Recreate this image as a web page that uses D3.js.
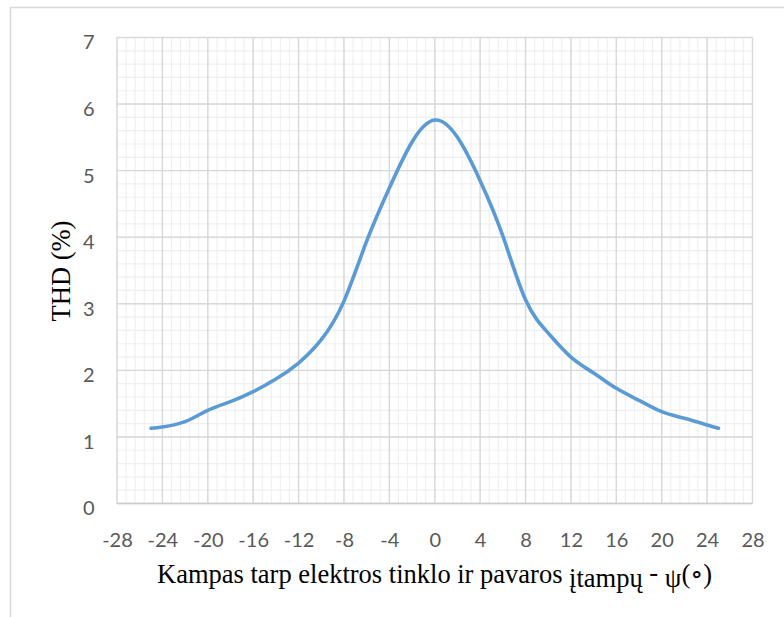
<!DOCTYPE html>
<html>
<head>
<meta charset="utf-8">
<script src="https://cdn.jsdelivr.net/npm/d3@7"></script>
<style>
  html, body { margin: 0; padding: 0; background: #fff; }
  svg { display: block; }
  .serif { font-family: "Liberation Serif", "Times New Roman", "DejaVu Serif", serif; }
  .tick-label { font-family: Lato, "Open Sans", sans-serif; }
</style>
</head>
<body>
<svg id="chart" width="784" height="617"></svg>
<script>
// THD versus phase angle between grid and drive voltage
const angles = [-25, -24, -22, -20, -18, -16, -14, -12, -10, -8, -6, -4, -2, 0,
                2, 4, 6, 8, 10, 12, 14, 16, 18, 20, 22, 24, 25];
const thdValues = [1.13, 1.15, 1.23, 1.40, 1.53, 1.68, 1.87, 2.11, 2.46, 3.04, 3.94, 4.74, 5.43, 5.76,
                   5.50, 4.85, 4.02, 3.06, 2.56, 2.20, 1.96, 1.73, 1.55, 1.38, 1.28, 1.18, 1.13];
const xTickValues = [-28, -24, -20, -16, -12, -8, -4, 0, 4, 8, 12, 16, 20, 24, 28];
const yTickValues = [0, 1, 2, 3, 4, 5, 6, 7];

const svg = d3.select("#chart");
const W = 784, H = 617;
const plot = { left: 117, right: 752.5, top: 37.5, bottom: 503.5 };

const x = d3.scaleLinear().domain([-28, 28]).range([plot.left, plot.right]);
const y = d3.scaleLinear().domain([0, 7]).range([plot.bottom, plot.top]);

// chart area frame (left and top edges)
svg.append("path")
  .attr("d", `M10.5,${H} L10.5,7.5 L${W},7.5`)
  .attr("fill", "none")
  .attr("stroke", "#d9d9d9")
  .attr("stroke-width", 1.5);

const grid = svg.append("g");

// minor gridlines
const xMinor = d3.range(-28, 28.001, 0.8);
const yMinor = d3.range(0, 7.001, 0.2);
grid.selectAll("line.xminor").data(xMinor).join("line")
  .attr("class", "xminor")
  .attr("x1", d => x(d)).attr("x2", d => x(d))
  .attr("y1", plot.top).attr("y2", plot.bottom)
  .attr("stroke", "#f0f0f0").attr("stroke-width", 1.2);
grid.selectAll("line.yminor").data(yMinor).join("line")
  .attr("class", "yminor")
  .attr("x1", plot.left).attr("x2", plot.right)
  .attr("y1", d => y(d)).attr("y2", d => y(d))
  .attr("stroke", "#f0f0f0").attr("stroke-width", 1.2);

// major gridlines
grid.selectAll("line.xmajor").data(xTickValues).join("line")
  .attr("class", "xmajor")
  .attr("x1", d => x(d)).attr("x2", d => x(d))
  .attr("y1", plot.top).attr("y2", plot.bottom)
  .attr("stroke", "#d9d9d9").attr("stroke-width", 1.4);
grid.selectAll("line.ymajor").data(yTickValues).join("line")
  .attr("class", "ymajor")
  .attr("x1", plot.left).attr("x2", plot.right)
  .attr("y1", d => y(d)).attr("y2", d => y(d))
  .attr("stroke", "#d9d9d9").attr("stroke-width", 1.4);

// baseline of the value axis
grid.append("line")
  .attr("x1", plot.left).attr("x2", plot.right)
  .attr("y1", y(0)).attr("y2", y(0))
  .attr("stroke", "#cccccc").attr("stroke-width", 1.6);

// axes (labels only), plain hyphen for negatives
const fmt = d => String(d).replace("\u2212", "-");
const xAxis = d3.axisBottom(x).tickValues(xTickValues).tickFormat(fmt).tickSize(0).tickPadding(0);
const yAxis = d3.axisLeft(y).tickValues(yTickValues).tickFormat(fmt).tickSize(0).tickPadding(0);

const gx = svg.append("g").attr("transform", `translate(0, ${plot.bottom})`).call(xAxis);
gx.select(".domain").remove();
gx.attr("font-family", null).attr("font-size", null);
gx.selectAll("text")
  .attr("class", "tick-label")
  .attr("y", 43).attr("dy", null)
  .attr("font-size", 20)
  .attr("fill", "#595959");

const gy = svg.append("g").attr("transform", `translate(94.5, 0)`).call(yAxis);
gy.select(".domain").remove();
gy.attr("font-family", null).attr("font-size", null);
gy.selectAll("text")
  .attr("class", "tick-label")
  .attr("x", 0).attr("dy", "0.62em").attr("y", -1)
  .attr("font-size", 20)
  .attr("fill", "#595959");

// curve
const points = angles.map((a, i) => [a, thdValues[i]]);
const line = d3.line()
  .x(d => x(d[0]))
  .y(d => y(d[1]))
  .curve(d3.curveNatural);
svg.append("path")
  .datum(points)
  .attr("d", line)
  .attr("fill", "none")
  .attr("stroke", "#5b9bd5")
  .attr("stroke-width", 3.6)
  .attr("stroke-linecap", "round")
  .attr("stroke-linejoin", "round");

// axis titles
const xt = svg.append("text")
  .attr("class", "serif")
  .attr("x", 157).attr("y", 583)
  .attr("font-size", 26.5)
  .attr("fill", "#000");
xt.append("tspan").text("Kampas tarp elektros tinklo ir pavaros ");
xt.append("tspan").attr("dy", 4).text("įtampų");
xt.append("tspan").attr("dy", -6).text(" - ");
xt.append("tspan").attr("dy", 6).text("ψ");
xt.append("tspan").attr("dy", -4).text("(∘)");

svg.append("text")
  .attr("class", "serif")
  .attr("transform", "translate(70, 271) rotate(-90)")
  .attr("text-anchor", "middle")
  .attr("font-size", 26.5)
  .attr("fill", "#000")
  .text("THD (%)");
</script>
</body>
</html>
